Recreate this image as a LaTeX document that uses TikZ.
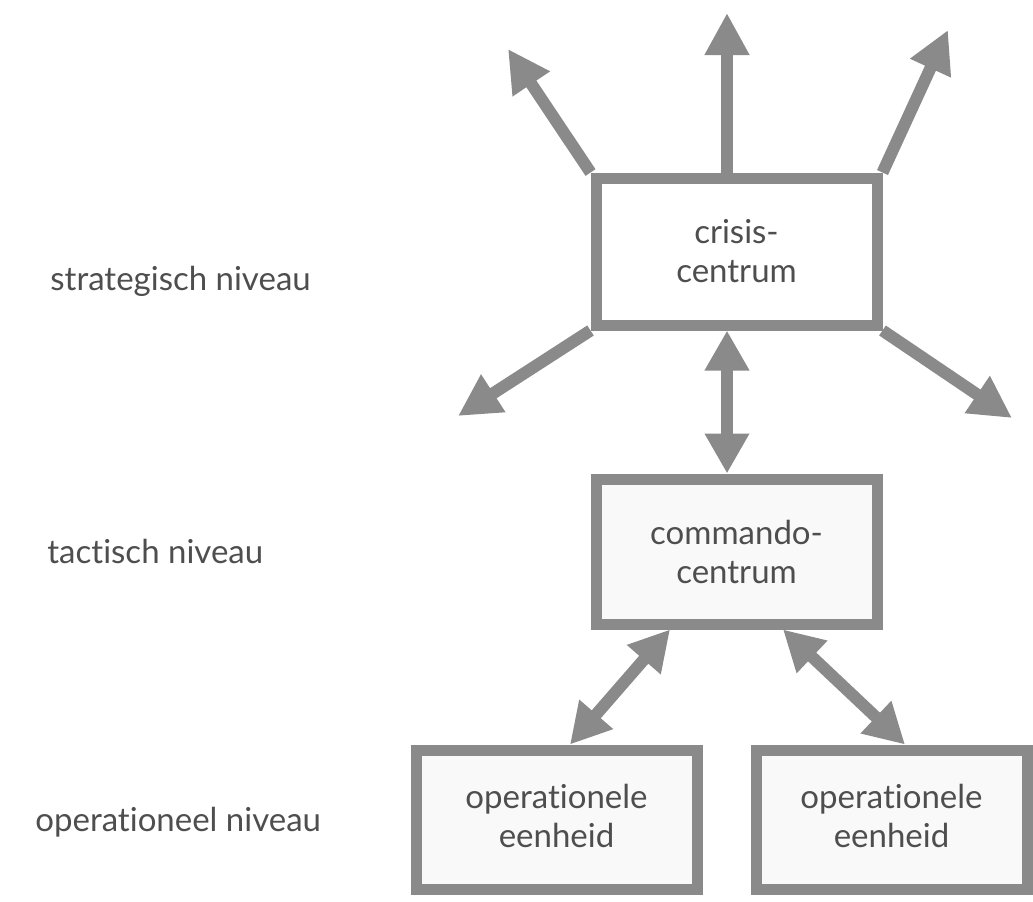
\documentclass[tikz,border=0pt]{standalone}
\usepackage{fontspec}
\setmainfont{Lato}[Ligatures=NoCommon]
\usetikzlibrary{arrows.meta}
\definecolor{mygray}{RGB}{138,138,138}
\definecolor{mytext}{RGB}{78,78,78}
\definecolor{myfill}{RGB}{249,249,249}
\tikzset{
  box/.style={rectangle, draw=mygray, fill=myfill, line width=5.5pt,
    minimum width=140.5pt, minimum height=72.5pt, align=center,
    font=\fontsize{16.5}{19.5}\selectfont, text=mytext, inner sep=0pt},
  level/.style={anchor=base west, font=\fontsize{16.5}{19.5}\selectfont,
    text=mytext, inner sep=0pt},
  arrow/.style={-{Triangle[length=21pt, width=21pt]}, line width=6pt, color=mygray},
  dblarrow/.style={{Triangle[length=20pt, width=21pt]}-{Triangle[length=20pt, width=21pt]},
    line width=6pt, color=mygray}
}
\begin{document}
\begin{tikzpicture}[x=0.5pt, y=-0.5pt]
  \useasboundingbox (0,0) rectangle (1033,901);

  % Boxes
  \node[box, fill=white, minimum height=73.5pt] (crisis) at (736.5, 251.5) {crisis-\\centrum};
  \node[box] (commando) at (736.5, 551.5) {commando-\\centrum};
  \node[box, minimum height=69.5pt, text depth=4pt] (opleft) at (556.5, 819.5) {operationele\\eenheid};
  \node[box, minimum height=69.5pt, minimum width=135.5pt, text depth=4pt] (opright) at (891.5, 819.5) {operationele\\eenheid};

  % Levels
  \node[level] (strat) at (50, 290) {strategisch niveau};
  \node[level] (tact) at (47, 563) {tactisch niveau};
  \node[level] (oper) at (35, 831) {operationeel niveau};

  % Arrows out of the crisis centre
  \coordinate (tipn) at (727, 13);
  \coordinate (tipnw) at (508, 49);
  \coordinate (tipne) at (948, 30);
  \coordinate (tipsw) at (458, 416);
  \coordinate (tipse) at (1012, 418);
  \draw[arrow] ([xshift=-4.75pt]crisis.north) -- (tipn);
  \draw[arrow] (crisis.north west) -- (tipnw);
  \draw[arrow] (crisis.north east) -- (tipne);
  \draw[arrow] (crisis.south west) -- (tipsw);
  \draw[arrow] (crisis.south east) -- (tipse);

  % Links between the levels
  \draw[dblarrow] ([xshift=-4.75pt]crisis.south) -- ([xshift=-4.75pt]commando.north);
  \draw[dblarrow] ([xshift=-33.25pt]commando.south) -- ([xshift=6.75pt]opleft.north);
  \draw[dblarrow] ([xshift=23.25pt]commando.south) -- ([xshift=6.75pt]opright.north);
\end{tikzpicture}
\end{document}
